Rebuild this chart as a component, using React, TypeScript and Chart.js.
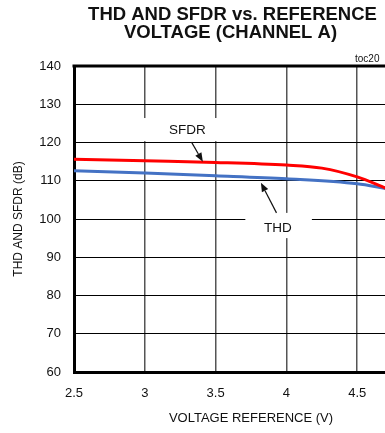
import React, { useEffect, useRef } from "react";
import { Chart, registerables } from "chart.js";

Chart.register(...registerables);

const sfdrVoltage = [2.5, 3.0, 3.5, 4.0, 4.25, 4.5, 4.7];
const sfdrValues = [115.6, 115.2, 114.8, 114.1, 113.3, 111.0, 108.1];
const thdVoltage = [2.5, 3.0, 3.5, 4.0, 4.5, 4.7];
const thdValues = [112.6, 112.0, 111.3, 110.5, 109.2, 108.0];
const xTickValues = [2.5, 3, 3.5, 4, 4.5, 5];
const yTickValues = [60, 70, 80, 90, 100, 110, 120, 130, 140];
const titleLines = ["THD AND SFDR vs. REFERENCE", "VOLTAGE (CHANNEL A)"];
const xAxisTitle = "VOLTAGE REFERENCE (V)";
const yAxisTitle = "THD AND SFDR (dB)";
const tocLabel = "toc20";

// annotation labels in data units
const annotations = [
  { text: "SFDR", x: 3.3, y: 123.3, box: [2.95, 3.55, 120.35, 126.4], arrow: [3.33, 120.1, 3.41, 114.95] },
  { text: "THD", x: 3.94, y: 97.7, box: [3.71, 4.18, 95.0, 101.6], arrow: [3.93, 101.6, 3.82, 109.5] },
];

const FONT = "'Liberation Sans', Arial, sans-serif";

const overlayPlugin = {
  id: "overlay",
  beforeDatasetsDraw(chart: any) {
    const { ctx, chartArea, scales } = chart;
    const xs = scales.x;
    const ys = scales.y;
    ctx.save();
    ctx.fillStyle = "#ffffff";
    for (const a of annotations) {
      const x0 = xs.getPixelForValue(a.box[0]);
      const x1 = xs.getPixelForValue(a.box[1]);
      const y0 = ys.getPixelForValue(a.box[3]);
      const y1 = ys.getPixelForValue(a.box[2]);
      ctx.fillRect(x0, y0, x1 - x0, y1 - y0);
    }
    ctx.strokeStyle = "#000";
    ctx.lineWidth = 3;
    ctx.beginPath();
    ctx.moveTo(chartArea.left - 1.5, chartArea.top);
    ctx.lineTo(chartArea.right, chartArea.top);
    ctx.lineTo(chartArea.right, chartArea.bottom);
    ctx.stroke();
    ctx.restore();
  },
  afterDatasetsDraw(chart: any) {
    const { ctx, scales } = chart;
    const xs = scales.x;
    const ys = scales.y;
    ctx.save();
    ctx.fillStyle = "#111";
    ctx.strokeStyle = "#111";
    ctx.font = `13.5px ${FONT}`;
    ctx.textAlign = "center";
    ctx.textBaseline = "middle";
    for (const a of annotations) {
      ctx.fillText(a.text, xs.getPixelForValue(a.x), ys.getPixelForValue(a.y));
      const sx = xs.getPixelForValue(a.arrow[0]);
      const sy = ys.getPixelForValue(a.arrow[1]);
      const ex = xs.getPixelForValue(a.arrow[2]);
      const ey = ys.getPixelForValue(a.arrow[3]);
      const ang = Math.atan2(ey - sy, ex - sx);
      const hl = 9;
      const hw = 3.5;
      const bx = ex - hl * Math.cos(ang);
      const by = ey - hl * Math.sin(ang);
      ctx.lineWidth = 1.2;
      ctx.beginPath();
      ctx.moveTo(sx, sy);
      ctx.lineTo(bx, by);
      ctx.stroke();
      ctx.beginPath();
      ctx.moveTo(ex, ey);
      ctx.lineTo(bx - hw * Math.sin(ang), by + hw * Math.cos(ang));
      ctx.lineTo(bx + hw * Math.sin(ang), by - hw * Math.cos(ang));
      ctx.closePath();
      ctx.fill();
    }
    ctx.restore();
  },
  afterDraw(chart: any) {
    const { ctx, chartArea } = chart;
    ctx.save();
    ctx.fillStyle = "#111";
    ctx.font = `bold 18.5px ${FONT}`;
    ctx.textAlign = "center";
    ctx.textBaseline = "alphabetic";
    ctx.fillText(titleLines[0], chart.width / 2, 20);
    ctx.fillText(titleLines[1], chart.width / 2 - 2, 38);
    ctx.font = `10px ${FONT}`;
    ctx.textAlign = "left";
    ctx.fillText(tocLabel, 355, chartArea.top - 4);
    ctx.restore();
  },
};

export default function App() {
  const canvasRef = useRef<HTMLCanvasElement | null>(null);

  useEffect(() => {
    document.body.style.margin = "0";
    document.body.style.overflow = "hidden";
    const canvas = canvasRef.current;
    if (!canvas) return;
    const chart = new Chart(canvas, {
      type: "line",
      data: {
        datasets: [
          {
            label: "SFDR",
            data: sfdrVoltage.map((v, i) => ({ x: v, y: sfdrValues[i] })),
            borderColor: "#ff0000",
            borderWidth: 3,
            pointRadius: 0,
            cubicInterpolationMode: "monotone",
          },
          {
            label: "THD",
            data: thdVoltage.map((v, i) => ({ x: v, y: thdValues[i] })),
            borderColor: "#4472c4",
            borderWidth: 3,
            pointRadius: 0,
            cubicInterpolationMode: "monotone",
          },
        ],
      },
      options: {
        animation: false,
        responsive: false,
        maintainAspectRatio: false,
        layout: { padding: { top: 66, right: 37, left: 0, bottom: 0 } },
        plugins: {
          legend: { display: false },
          tooltip: { enabled: false },
          title: { display: false },
        },
        scales: {
          x: {
            type: "linear",
            min: xTickValues[0],
            max: xTickValues[xTickValues.length - 1],
            afterBuildTicks: (scale: any) => {
              scale.ticks = xTickValues.map((v) => ({ value: v }));
            },
            afterFit: (scale: any) => {
              scale.height = 61;
            },
            ticks: {
              color: "#111",
              font: { family: FONT, size: 13 },
              padding: 14,
              maxRotation: 0,
              autoSkip: false,
              callback: (v: any) => String(v),
            },
            grid: { color: "#555", lineWidth: 1.5, drawTicks: false },
            border: { display: true, color: "#000", width: 3 },
            title: {
              display: true,
              text: xAxisTitle,
              color: "#111",
              font: { family: FONT, size: 13 },
              padding: { top: 0, bottom: 7 },
            },
          },
          y: {
            type: "linear",
            min: yTickValues[0],
            max: yTickValues[yTickValues.length - 1],
            afterBuildTicks: (scale: any) => {
              scale.ticks = yTickValues.map((v) => ({ value: v }));
            },
            afterFit: (scale: any) => {
              scale.width = 74;
            },
            ticks: {
              color: "#111",
              font: { family: FONT, size: 13 },
              padding: 13,
              autoSkip: false,
            },
            grid: { color: "#000", lineWidth: 1, drawTicks: false },
            border: { display: true, color: "#000", width: 3 },
            title: {
              display: true,
              text: yAxisTitle,
              color: "#111",
              font: { family: FONT, size: 12 },
              padding: { top: 11, bottom: 0 },
            },
          },
        },
      } as any,
      plugins: [overlayPlugin],
    });
    return () => chart.destroy();
  }, []);

  return (
    <div style={{ width: 385, height: 433, overflow: "hidden", position: "relative" }}>
      <canvas ref={canvasRef} width={465} height={433} style={{ display: "block", width: 465, height: 433 }} />
    </div>
  );
}
